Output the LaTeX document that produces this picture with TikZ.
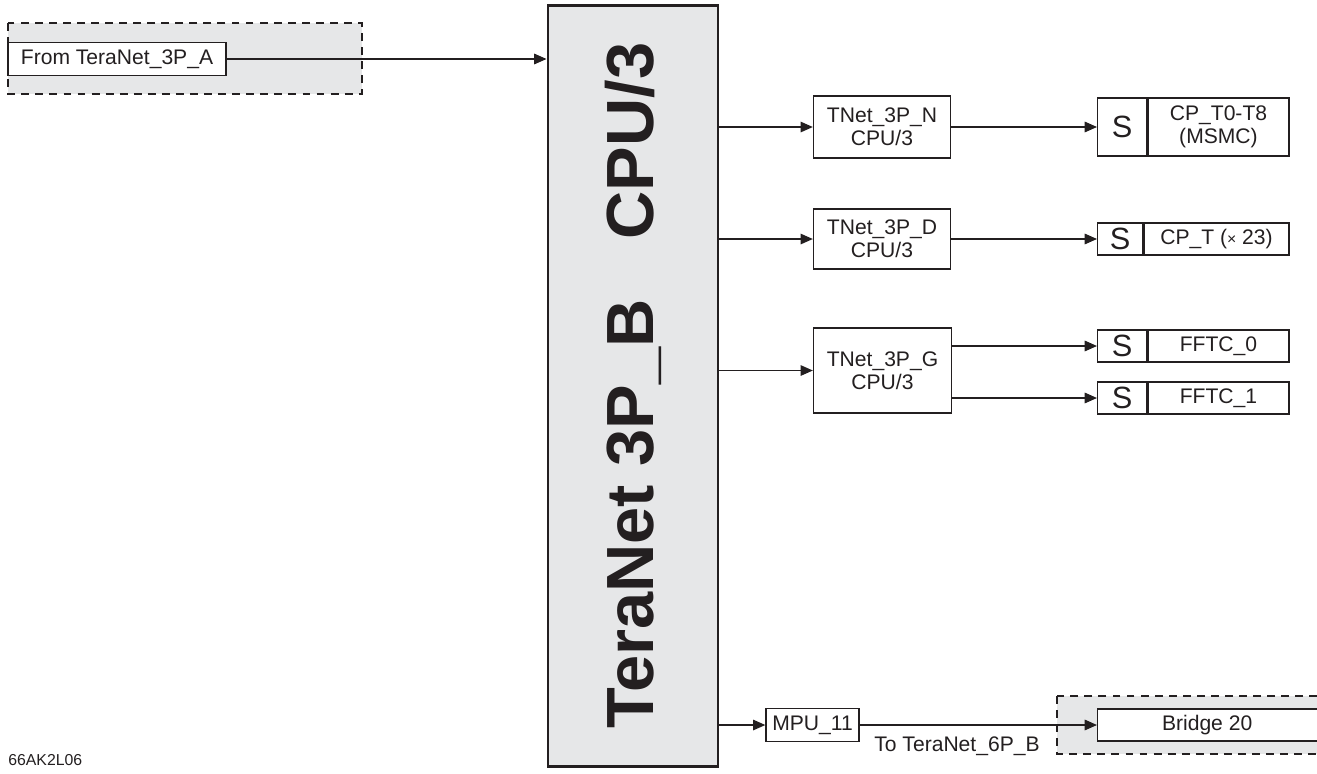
\documentclass[tikz,border=0pt]{standalone}
\usepackage{fontspec}
\setmainfont{Liberation Sans}
\usetikzlibrary{arrows.meta}

\definecolor{tngray}{HTML}{E6E7E8}
\definecolor{tnline}{HTML}{231F20}

\tikzset{
  blk/.style={draw=tnline, fill=white, line width=0.75pt, align=center,
    inner sep=0pt, text=tnline, font=\fontsize{12}{13}\selectfont},
  scell/.style={blk, font=\fontsize{17.5}{18}\selectfont},
  zone/.style={draw=tnline, fill=tngray, dash pattern=on 4.5pt off 3.5pt, line width=0.75pt},
  arr/.style={draw=tnline, line width=0.75pt, -{Triangle[length=7pt,width=6pt]}},
}

\begin{document}
\begin{tikzpicture}
  \path[use as bounding box, clip] (0,0) rectangle (26.34,-15.46);

  % dashed zones
  \path[zone] (0.16,-0.46) rectangle (7.24,-1.88);
  \path[zone] (21.14,-13.92) rectangle (26.8,-15.08);

  % the switch fabric
  \node[draw=tnline, fill=tngray, line width=1.7pt, minimum width=3.4cm, minimum height=15.22cm] (tn3b) at (12.66,-7.71) {};
  \node[rotate=90, text=tnline, font=\fontsize{38}{40}\selectfont\bfseries] (tn3bname) at (tn3b.center) {TeraNet 3P\_B\hspace{0.9em}CPU/3};

  % masters and slaves
  \node[blk, minimum width=4.36cm, minimum height=0.66cm] (fromA) at (2.34,-1.18) {From TeraNet\_3P\_A};
  \node[blk, minimum width=2.74cm, minimum height=1.24cm] (nN) at (17.64,-2.54) {TNet\_3P\_N\\CPU/3};
  \node[blk, minimum width=2.74cm, minimum height=1.2cm] (nD) at (17.64,-4.78) {TNet\_3P\_D\\CPU/3};
  \node[blk, minimum width=2.76cm, minimum height=1.7cm] (nG) at (17.65,-7.41) {TNet\_3P\_G\\CPU/3};
  \node[blk, minimum width=1.86cm, minimum height=0.66cm] (mpu) at (16.25,-14.5) {MPU\_11};

  \node[scell, minimum width=0.98cm, minimum height=1.16cm, anchor=west] (s1) at (21.94,-2.54) {S};
  \node[blk, minimum width=2.82cm, minimum height=1.16cm, anchor=west] (t1) at (s1.east) {CP\_T0-T8\\(MSMC)};
  \node[scell, minimum width=0.9cm, minimum height=0.64cm, anchor=west] (s2) at (21.94,-4.78) {S};
  \node[blk, minimum width=2.9cm, minimum height=0.64cm, anchor=west] (t2) at (s2.east) {CP\_T ({\fontsize{9}{9}\selectfont\texttimes} 23)};
  \foreach \i/\y in {0/-6.92,1/-7.96} {
    \node[scell, minimum width=0.98cm, minimum height=0.64cm, anchor=west] (f\i) at (21.94,\y) {S};
    \node[blk, minimum width=2.82cm, minimum height=0.64cm, anchor=west] (ft\i) at (f\i.east) {FFTC\_\i};
  }
  \node[blk, minimum width=5cm, minimum height=0.64cm, anchor=west] (bridge) at (21.94,-14.5) {\hspace{-0.62cm}Bridge 20};

  % connections
  \draw[arr] (fromA) -- (fromA -| tn3b.west);
  \draw[arr] (tn3b.east |- nN) -- (nN);
  \draw[arr] (tn3b.east |- nD) -- (nD);
  \draw[arr] (tn3b.east |- nG) -- (nG);
  \draw[arr] (tn3b.east |- mpu) -- (mpu);
  \draw[arr] (nN) -- (nN -| s1.west);
  \draw[arr] (nD) -- (nD -| s2.west);
  \draw[arr] (nG.east |- f0) -- (f0);
  \draw[arr] (nG.east |- f1) -- (f1);
  \draw[arr] (mpu) -- (bridge)
    node[pos=0.41, below=3pt, text=tnline, font=\fontsize{12}{13}\selectfont] (to6pb) {To TeraNet\_6P\_B};

  \node[anchor=base west, inner sep=0pt, text=tnline, font=\fontsize{9}{10}\selectfont] (figid) at (0.16,-15.3) {66AK2L06};
\end{tikzpicture}
\end{document}
